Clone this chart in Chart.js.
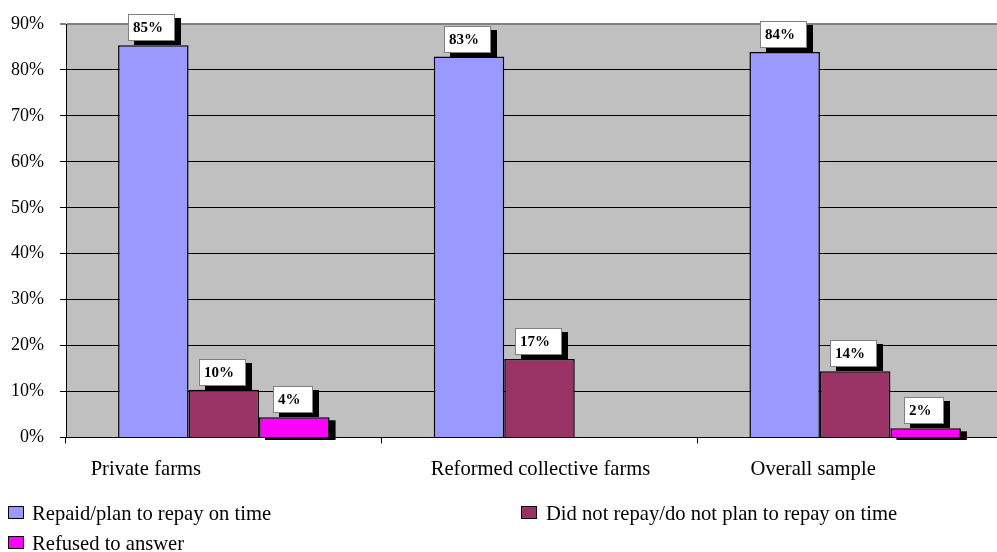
<!DOCTYPE html>
<html>
<head>
<meta charset="utf-8">
<script src="https://cdn.jsdelivr.net/npm/chart.js@4"></script>
<style>
    html, body { margin: 0; padding: 0; background: #fff; overflow: hidden; }
    #wrap { position: absolute; left: 0; top: 0; width: 1013px; height: 552px; }
    .legend-item { position: absolute; font-family: 'Liberation Serif', 'Times New Roman', serif; font-size: 20.6px; line-height: 20px; color: #000; white-space: nowrap; }
    .legend-box { position: absolute; width: 14px; height: 11px; border: 1px solid #000; }
</style>
</head>
<body>
<div id="wrap"><canvas id="loanChart"></canvas></div>
<div id="legend"></div>
<script>
const categories = ['Private farms', 'Reformed collective farms', 'Overall sample'];
const seriesNames = ['Repaid/plan to repay on time', 'Did not repay/do not plan to repay on time', 'Refused to answer'];
const repaid = [85.4, 82.9, 83.9];
const notRepaid = [10.4, 17.1, 14.4];
const refused = [4.4, 0, 2.0];
const yTicks = [0, 10, 20, 30, 40, 50, 60, 70, 80, 90];

const seriesColors = ['#9999FF', '#993366', '#FF00FF'];
// where each category label sits relative to its group centre
const labelShift = [-78, 1, -42];
// legend slots: [box left, text left, row centre]
const legendSlots = [[8, 32, 513], [521, 546, 513], [8, 32, 543]];

const serif = "'Liberation Serif', 'Times New Roman', serif";

// grey plot area behind the bars
const plotBackground = {
    id: 'plotBackground',
    beforeDraw(chart) {
        const { ctx, chartArea: a } = chart;
        ctx.save();
        ctx.fillStyle = '#C0C0C0';
        ctx.fillRect(a.left, a.top, a.right - a.left, a.bottom - a.top);
        ctx.restore();
    }
};

// drop shadow under the third series
const barShadow = {
    id: 'barShadow',
    beforeDatasetDraw(chart, args) {
        if (args.index !== 2) return;
        const ctx = chart.ctx;
        ctx.save();
        ctx.fillStyle = '#000';
        args.meta.data.forEach((bar, i) => {
            if (!(chart.data.datasets[2].data[i] > 0)) return;
            const { x, y, base, width } = bar.getProps(['x', 'y', 'base', 'width'], true);
            ctx.fillRect(x - width / 2 + 6, y + 3, width, base - y);
        });
        ctx.restore();
    }
};

// boxed value labels with a black shadow
const valueBoxes = {
    id: 'valueBoxes',
    afterDatasetsDraw(chart) {
        const ctx = chart.ctx;
        ctx.save();
        ctx.font = 'bold 15px ' + serif;
        ctx.textBaseline = 'middle';
        ctx.textAlign = 'left';
        chart.data.datasets.forEach((ds, di) => {
            chart.getDatasetMeta(di).data.forEach((bar, i) => {
                const v = ds.data[i];
                if (!(v > 0)) return;
                const text = Math.round(v) + '%';
                const tw = ctx.measureText(text).width;
                const { x, y } = bar.getProps(['x', 'y'], true);
                const w = Math.round(tw + 17), h = 27;
                const left = Math.round(x - tw / 2 - 10);
                const top = Math.round(y - 31);
                ctx.fillStyle = '#000';
                ctx.fillRect(left + 6, top + 4, w, h);
                ctx.fillStyle = '#fff';
                ctx.fillRect(left, top, w, h);
                ctx.strokeStyle = '#808080';
                ctx.lineWidth = 1;
                ctx.strokeRect(left + 0.5, top + 0.5, w - 1, h - 1);
                ctx.fillStyle = '#000';
                ctx.fillText(text, left + 5, top + h / 2 + 1);
            });
        });
        ctx.restore();
    }
};

// category names under the axis
const categoryLabels = {
    id: 'categoryLabels',
    afterDraw(chart) {
        const ctx = chart.ctx;
        const xs = chart.scales.x;
        ctx.save();
        ctx.font = '20.6px ' + serif;
        ctx.fillStyle = '#000';
        ctx.textAlign = 'center';
        ctx.textBaseline = 'middle';
        categories.forEach((c, i) => {
            ctx.fillText(c, xs.getPixelForValue(i) + labelShift[i], 470);
        });
        ctx.restore();
    }
};

const ctx = document.getElementById('loanChart').getContext('2d');
new Chart(ctx, {
    type: 'bar',
    data: {
        labels: categories,
        datasets: [repaid, notRepaid, refused].map((d, i) => ({
            label: seriesNames[i],
            data: d,
            backgroundColor: seriesColors[i],
            borderColor: '#000',
            borderWidth: 1.5,
            categoryPercentage: 0.67,
            barPercentage: 1.0
        }))
    },
    options: {
        responsive: true,
        maintainAspectRatio: false,
        animation: false,
        layout: { padding: { top: 24, bottom: 108.5, left: 0, right: 0 } },
        plugins: {
            legend: { display: false },
            tooltip: { enabled: false }
        },
        scales: {
            x: {
                offset: true,
                grid: { offset: true, drawOnChartArea: false, tickLength: 6, color: '#000' },
                border: { color: '#000' },
                ticks: { display: false },
                afterFit: s => { s.height = 6; }
            },
            y: {
                min: 0,
                max: 90,
                afterBuildTicks: s => { s.ticks = yTicks.map(v => ({ value: v })); },
                ticks: {
                    callback: v => v + '%',
                    font: { family: serif, size: 18 },
                    color: '#000',
                    padding: 16
                },
                grid: {
                    tickLength: 6,
                    color: c => (c.tick && c.tick.value === 90 ? '#808080' : '#000'),
                    lineWidth: c => (c.tick && c.tick.value === 90 ? 2 : 1)
                },
                border: { color: '#000' },
                afterFit: s => {
                    s.width = 66;
                    // label padding should not push the plot area down
                    s.paddingTop = 11;
                    s.paddingBottom = 11;
                }
            }
        }
    },
    plugins: [plotBackground, barShadow, valueBoxes, categoryLabels]
});

// legend below the chart
const legend = document.getElementById('legend');
seriesNames.forEach((name, i) => {
    const [boxLeft, textLeft, cy] = legendSlots[i];
    const box = document.createElement('div');
    box.className = 'legend-box';
    box.style.left = boxLeft + 'px';
    box.style.top = (cy - 7) + 'px';
    box.style.background = seriesColors[i];
    legend.appendChild(box);
    const label = document.createElement('div');
    label.className = 'legend-item';
    label.style.left = textLeft + 'px';
    label.style.top = (cy - 10) + 'px';
    label.textContent = name;
    legend.appendChild(label);
});
</script>
</body>
</html>
